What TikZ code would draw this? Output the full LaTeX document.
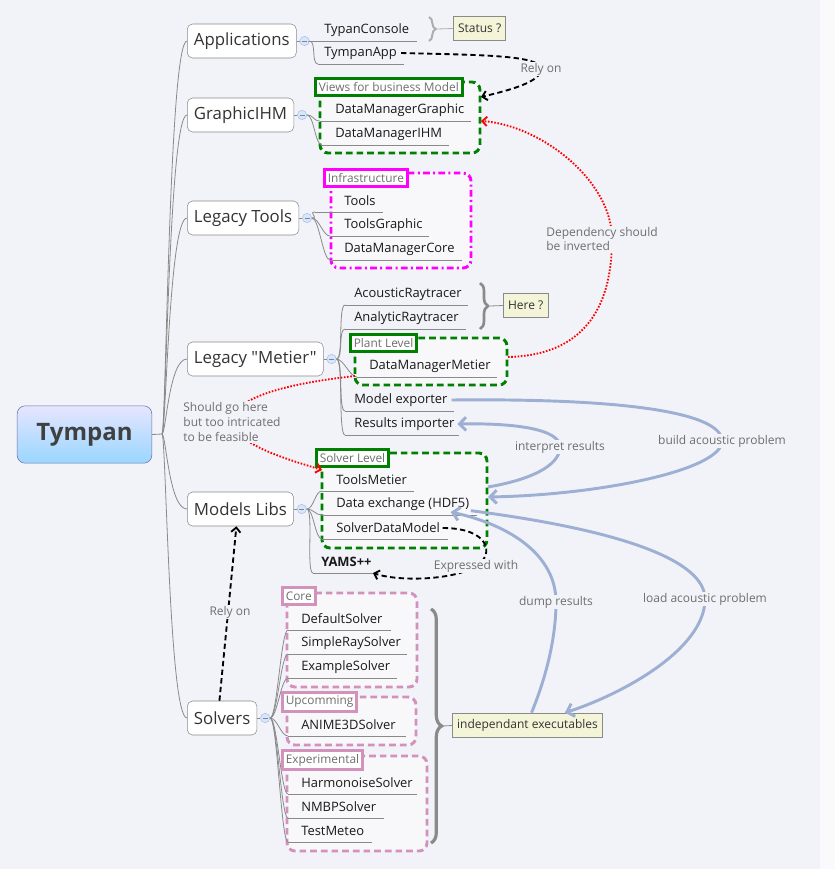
\documentclass[tikz,border=0pt]{standalone}
\usepackage{fontspec}
\setmainfont{Open Sans}[Ligatures=TeXOff]
\usetikzlibrary{arrows.meta,decorations.pathreplacing}

\definecolor{bgcol}{HTML}{F2F3F9}
\definecolor{grpfill}{HTML}{F8F8FB}
\definecolor{linegray}{HTML}{8A8A8A}
\definecolor{txtgray}{HTML}{6E6E6E}
\definecolor{okgreen}{HTML}{008000}
\definecolor{infra}{HTML}{FF00FF}
\definecolor{solvpink}{HTML}{D292BC}
\definecolor{relblue}{HTML}{9DAFD3}
\definecolor{notefill}{HTML}{F4F4D8}
\definecolor{foldfill}{HTML}{D9E6FA}
\definecolor{folddraw}{HTML}{A8C0EA}

\tikzset{
  mmtopic/.style={draw=linegray, fill=white, rounded corners=4pt, minimum height=25.5pt,
    inner xsep=5pt, anchor=west, text=black!80, font=\fontsize{12.6}{14}\selectfont},
  mmsub/.style={inner sep=0pt, anchor=west, text=black!90, font=\fontsize{9.7}{11}\selectfont},
  mmline/.style={draw=linegray, line width=0.6pt},
  mmfold/.style={circle, draw=folddraw, fill=foldfill, minimum size=7pt, inner sep=0pt,
    path picture={\draw[folddraw!70!black, line width=0.4pt]
      ([xshift=1.6pt]path picture bounding box.west) -- ([xshift=-1.6pt]path picture bounding box.east);}},
  mmgroup/.style={fill=grpfill, line width=2.2pt, rounded corners=6pt},
  mmlabel/.style={draw=#1, fill=white, line width=2.2pt, anchor=west, inner xsep=2.5pt,
    inner ysep=2.8pt, text=txtgray, font=\fontsize{8.9}{10}\selectfont},
  mmnote/.style={draw=linegray, fill=notefill, line width=0.7pt, anchor=west, inner xsep=3.5pt,
    minimum height=18.5pt, text=black!80, font=\fontsize{9}{11}\selectfont},
  mmbrace/.style={decorate, decoration={brace, amplitude=#1}, draw=linegray},
  rellabel/.style={fill=bgcol, inner sep=1pt, text=txtgray, align=left,
    font=\fontsize{9}{11}\selectfont},
  relblue/.style={draw=relblue, line width=2.2pt, -{Straight Barb[length=5pt,width=10pt]}},
  relblack/.style={draw=black, line width=1.4pt, dash pattern=on 4pt off 2.5pt,
    -{Straight Barb[length=3.5pt,width=7pt]}},
  relred/.style={draw=red, line width=1.4pt, dash pattern=on 1.2pt off 1.2pt,
    -{Straight Barb[length=3.5pt,width=7pt]}},
}

\begin{document}
\begin{tikzpicture}[x=0.75pt, y=-0.75pt]
    % background
    \useasboundingbox (0,0) rectangle (835,869);
    \fill[bgcol] (0,0) rectangle (835,869);
    \fill[white!60!bgcol] (820,0) rectangle (835,869);

    % central topic
    \node[draw=linegray!80!blue, top color=blue!10!white, bottom color=blue!40!cyan!40!white,
      rounded corners=6pt, minimum width=101pt, minimum height=43pt, text=black!75,
      font=\fontsize{18}{20}\selectfont\bfseries] (tym) at (84.5,434.5) {Tympan};
    \coordinate (trunk) at (162,434);
    \draw[mmline] (tym.east) -- (trunk);

    % main topics
    \node[mmtopic] (app) at (187,41)  {Applications};
    \node[mmtopic] (gra) at (187,115) {GraphicIHM};
    \node[mmtopic] (ltl) at (187,218) {Legacy Tools};
    \node[mmtopic] (lmt) at (187,359) {Legacy "Metier"};
    \node[mmtopic] (mlb) at (187,509) {Models Libs};
    \node[mmtopic] (slv) at (187,718) {Solvers};

    \foreach \t/\f in {app/capp, gra/cgra, ltl/cltl, lmt/clmt, mlb/cmlb, slv/cslv} {
        \draw[mmline] (trunk) .. controls +(4,0) and +(-18,0) .. (\t.west);
        \node[mmfold] (\f) at ([xshift=6pt]\t.east) {};
        \draw[mmline] (\t.east) -- (\f.west);
    }

    % groups
    \draw[mmgroup, draw=okgreen, dash pattern=on 5pt off 3pt] (320,82) rectangle (480,153);
    \draw[mmgroup, draw=infra, dash pattern=on 5pt off 2.5pt on 1.5pt off 2.5pt] (331,173) rectangle (471,268);
    \draw[mmgroup, draw=okgreen, dash pattern=on 5pt off 3pt] (355,338) rectangle (507,385);
    \draw[mmgroup, draw=okgreen, dash pattern=on 5pt off 3pt] (322,453) rectangle (487,548);
    \draw[mmgroup, draw=solvpink, dash pattern=on 5pt off 3pt] (287,593) rectangle (417,687);
    \draw[mmgroup, draw=solvpink, dash pattern=on 5pt off 3pt] (287,697) rectangle (416,745);
    \draw[mmgroup, draw=solvpink, dash pattern=on 5pt off 3pt] (287,756) rectangle (427,851);

    % sub topics
    \foreach \n/\x/\y/\a/\b/\p/\s in {
        tcon/324/30/310/417/capp/TypanConsole,
        tapp/324/53/318/404/capp/TympanApp,
        dmg/335/110/320/471/cgra/DataManagerGraphic,
        dmi/335/134/322/449/cgra/DataManagerIHM,
        tls/344/201/315/383/cltl/Tools,
        tlg/344/225/330/429/cltl/ToolsGraphic,
        dmc/344/249/330/462/cltl/DataManagerCore,
        acr/354/294/345/468/clmt/AcousticRaytracer,
        anr/354/318/345/466/clmt/AnalyticRaytracer,
        dmm/369/366/357/497/clmt/DataManagerMetier,
        mex/354/400/345/454/clmt/{Model exporter},
        rim/354/424/345/459/clmt/{Results importer},
        tme/336/480/322/414/cmlb/ToolsMetier,
        dex/336/504/322/477/cmlb/{Data exchange (HDF5)},
        sdm/336/528/322/448/cmlb/SolverDataModel,
        yam/321/562/313/373/cmlb/{\bfseries YAMS++},
        dfs/301/619/288/391/cslv/DefaultSolver,
        srs/301/643/288/407/cslv/SimpleRaySolver,
        exs/301/667/288/397/cslv/ExampleSolver,
        ani/301/725/288/406/cslv/ANIME3DSolver,
        hms/301/783/288/417/cslv/HarmonoiseSolver,
        nmb/301/807/288/384/cslv/NMBPSolver,
        tmt/301/831/288/372/cslv/TestMeteo} {
        \node[mmsub] (\n) at (\x,\y) {\s};
        \coordinate (\n-u) at (\a,\y+11);
        \coordinate (\n-e) at (\b,\y+11);
        \draw[mmline] (\n-u) -- (\n-e);
        \draw[mmline] (\p.east) .. controls +(7,0) and +(-7,0) .. (\n-u);
    }

    % group labels
    \node[mmlabel=okgreen]  (vbm) at (314,87)  {Views for business Model};
    \node[mmlabel=infra]    (ifs) at (323,178) {Infrastructure};
    \node[mmlabel=okgreen]  (plv) at (349,343) {Plant Level};
    \node[mmlabel=okgreen]  (slv-l) at (315,458) {Solver Level};
    \node[mmlabel=solvpink] (cor) at (281,596) {Core};
    \node[mmlabel=solvpink] (upc) at (281,702) {Upcomming};
    \node[mmlabel=solvpink] (exp) at (281,760) {Experimental};

    % summaries
    \node[mmnote] (stat)  at (453,28.5)  {Status ?};
    \node[mmnote] (here)  at (503,305.5) {Here ?};
    \node[mmnote] (indep) at (452,725.5) {independant executables};
    \draw[mmbrace=5pt, line width=1.5pt, draw=linegray!70] (429,17) -- (429,41);
    \coordinate (st-tip) at (437,29);
    \draw[mmline, draw=linegray!70] (st-tip) -- (stat.west);
    \draw[mmbrace=6pt, line width=2pt] (480,283) -- (480,329);
    \coordinate (here-tip) at (490,306);
    \draw[mmline] (here-tip) -- (here.west);
    \draw[mmbrace=8pt, line width=2.4pt] (431,609) -- (431,843);
    \coordinate (indep-tip) at (443,726);
    \draw[mmline] (indep-tip) -- (indep.west);

    % attach points on groups
    \coordinate (vbm-a) at (481,97);
    \coordinate (vbm-b) at (481,121);
    \coordinate (plv-r) at (508,357);
    \coordinate (plv-l) at (355,376);
    \coordinate (slv-a) at (322,470);
    \coordinate (slv-b) at (488,487);
    \coordinate (slv-c) at (488,497);

    % label points
    \coordinate (ron1) at (541,69);
    \coordinate (dep)  at (612,239);
    \coordinate (sgh)  at (232,422);
    \coordinate (bap)  at (722,441);
    \coordinate (irs)  at (560,447);
    \coordinate (lap)  at (705,599);
    \coordinate (dmr)  at (556,602);
    \coordinate (exw)  at (476,566);
    \coordinate (ron2) at (230,612);

    % relationships
    \draw[relblack] ([xshift=3pt]tapp.east) .. controls (480,55) and (541,55) .. (ron1)
        .. controls (541,82) and (510,90) .. (vbm-a);
    \draw[relred] (plv-r) .. controls (590,355) and (612,300) .. (dep)
        .. controls (612,180) and (540,125) .. (vbm-b);
    \draw[relred] (plv-l) .. controls (300,382) and (232,395) .. (sgh)
        .. controls (236,445) and (290,460) .. (slv-a);
    \draw[relblue] ([xshift=3pt]mex.east) .. controls (640,398) and (722,415) .. (bap)
        .. controls (722,470) and (600,495) .. (slv-c);
    \draw[relblue] (slv-b) .. controls (540,478) and (560,462) .. (irs)
        .. controls (560,428) and (510,423) .. ([xshift=2pt]rim.east);
    \draw[relblue] ([xshift=1pt,yshift=-5pt]dex.east) .. controls (620,530) and (705,560) .. (lap)
        .. controls (705,650) and (620,695) .. ([xshift=28pt]indep.north);
    \draw[relblue] ([xshift=3pt]indep.north) .. controls (545,680) and (556,640) .. (dmr)
        .. controls (556,555) and (510,525) .. ([xshift=-14pt,yshift=-6pt]dex.east);
    \draw[relblack] ([xshift=2pt]sdm.east) .. controls (490,528) and (495,555) .. (exw)
        .. controls (455,580) and (400,582) .. (yam-e);
    \draw[relblack] ([xshift=-2pt]slv.north) -- ([xshift=-3pt]mlb.south);

    % relationship labels
    \node[rellabel] at (ron1) {Rely on};
    \node[rellabel] at (602,239) {Dependency should\\be inverted};
    \node[rellabel] at (sgh) {Should go here\\but too intricated\\to be feasible};
    \node[rellabel] at (bap) {build acoustic problem};
    \node[rellabel] at (irs) {interpret results};
    \node[rellabel] at (lap) {load acoustic problem};
    \node[rellabel] at (dmr) {dump results};
    \node[rellabel] at (exw) {Expressed with};
    \node[rellabel] at (ron2) {Rely on};
\end{tikzpicture}
\end{document}
